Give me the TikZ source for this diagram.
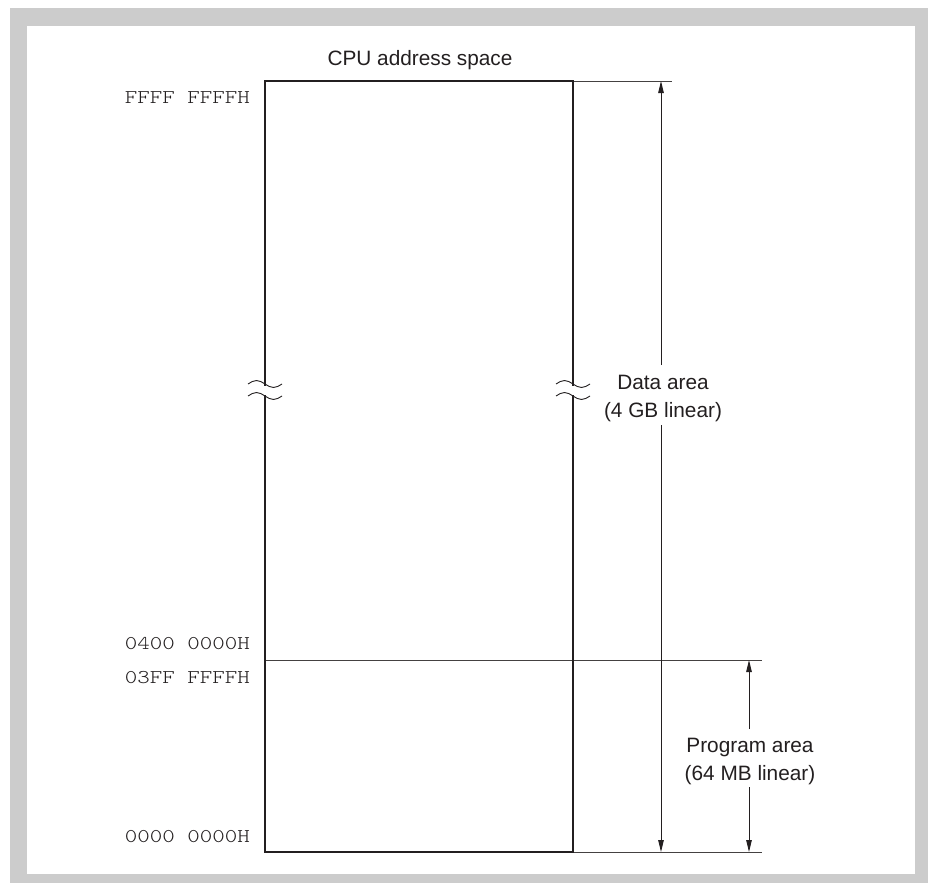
\documentclass[tikz,border=0pt]{standalone}
\usepackage{fontspec}
\setmainfont{Liberation Sans}
\newfontfamily\addrfont[FakeStretch=1.22]{Latin Modern Mono Light}
\usetikzlibrary{arrows.meta}
\definecolor{framegray}{RGB}{204,204,204}
\definecolor{ink}{RGB}{35,31,32}
\tikzset{
  lbl/.style={font=\fontsize{20.8}{29}\selectfont, inner sep=0pt, text=ink},
  addr/.style={font=\addrfont\fontsize{19.5}{22}\selectfont, inner sep=0pt, text=ink, anchor=base east},
  boxline/.style={draw=ink, line width=2.6pt},
  thinline/.style={draw=ink!85, line width=0.9pt},
  dim/.style={draw=ink, line width=0.9pt, -{Triangle[length=12pt,width=5.5pt]}},
  wave/.style={draw=ink, line width=0.9pt},
}
\begin{document}
\begin{tikzpicture}[x=1pt,y=-1pt]
\useasboundingbox (0,0) rectangle (928,883);
\fill[framegray] (10,8) rectangle (928,883);
\fill[white] (27,26) rectangle (915,874);

% corners and reference points
\coordinate (tl) at (265,81);
\coordinate (tr) at (573,81);
\coordinate (bl) at (265,852);
\coordinate (br) at (573,852);
\coordinate (dl) at (265,660);
\coordinate (dr) at (762,660);
\coordinate (topext) at (672,81);
\coordinate (botext) at (762,852);

% extension and divider lines
\draw[thinline] (tr) -- (topext);
\draw[thinline] (br) -- (botext);
\draw[thinline] (dl) -- (dr);

% memory box
\draw[boxline] (tl) rectangle (br);

% break marks
\foreach \bx in {265,573}{
  \fill[white] (\bx-3,385.5) rectangle (\bx+3,394.5);
  \draw[wave] (\bx-17,384) sin (\bx-8.5,380.5) cos (\bx,384) sin (\bx+8.5,387.5) cos (\bx+17,384);
  \draw[wave] (\bx-17,396) sin (\bx-8.5,392.5) cos (\bx,396) sin (\bx+8.5,399.5) cos (\bx+17,396);
}

% data area dimension
\coordinate (dtop) at (661,81);
\coordinate (dbot) at (661,852);
\coordinate (dg1) at (661,365);
\coordinate (dg2) at (661,425);
\draw[dim] (dg1) -- (dtop);
\draw[dim] (dg2) -- (dbot);

% program area dimension
\coordinate (ptop) at (749,660);
\coordinate (pbot) at (749,852);
\coordinate (pg1) at (749,729);
\coordinate (pg2) at (749,787);
\draw[dim] (pg1) -- (ptop);
\draw[dim] (pg2) -- (pbot);

% texts
\node[lbl, anchor=base] (title) at (420,65) {CPU address space};
\node[addr] (aF) at (250,103) {FFFF FFFFH};
\node[addr] (a4) at (250,649) {0400 0000H};
\node[addr] (a3) at (250,683) {03FF FFFFH};
\node[addr] (a0) at (250,842) {0000 0000H};
\node[lbl, anchor=base] (d1) at (663,389) {Data area};
\node[lbl, anchor=base] (d2) at (663,417) {(4 GB linear)};
\node[lbl, anchor=base] (p1) at (750,752) {Program area};
\node[lbl, anchor=base] (p2) at (750,780) {(64 MB linear)};
\end{tikzpicture}
\end{document}
